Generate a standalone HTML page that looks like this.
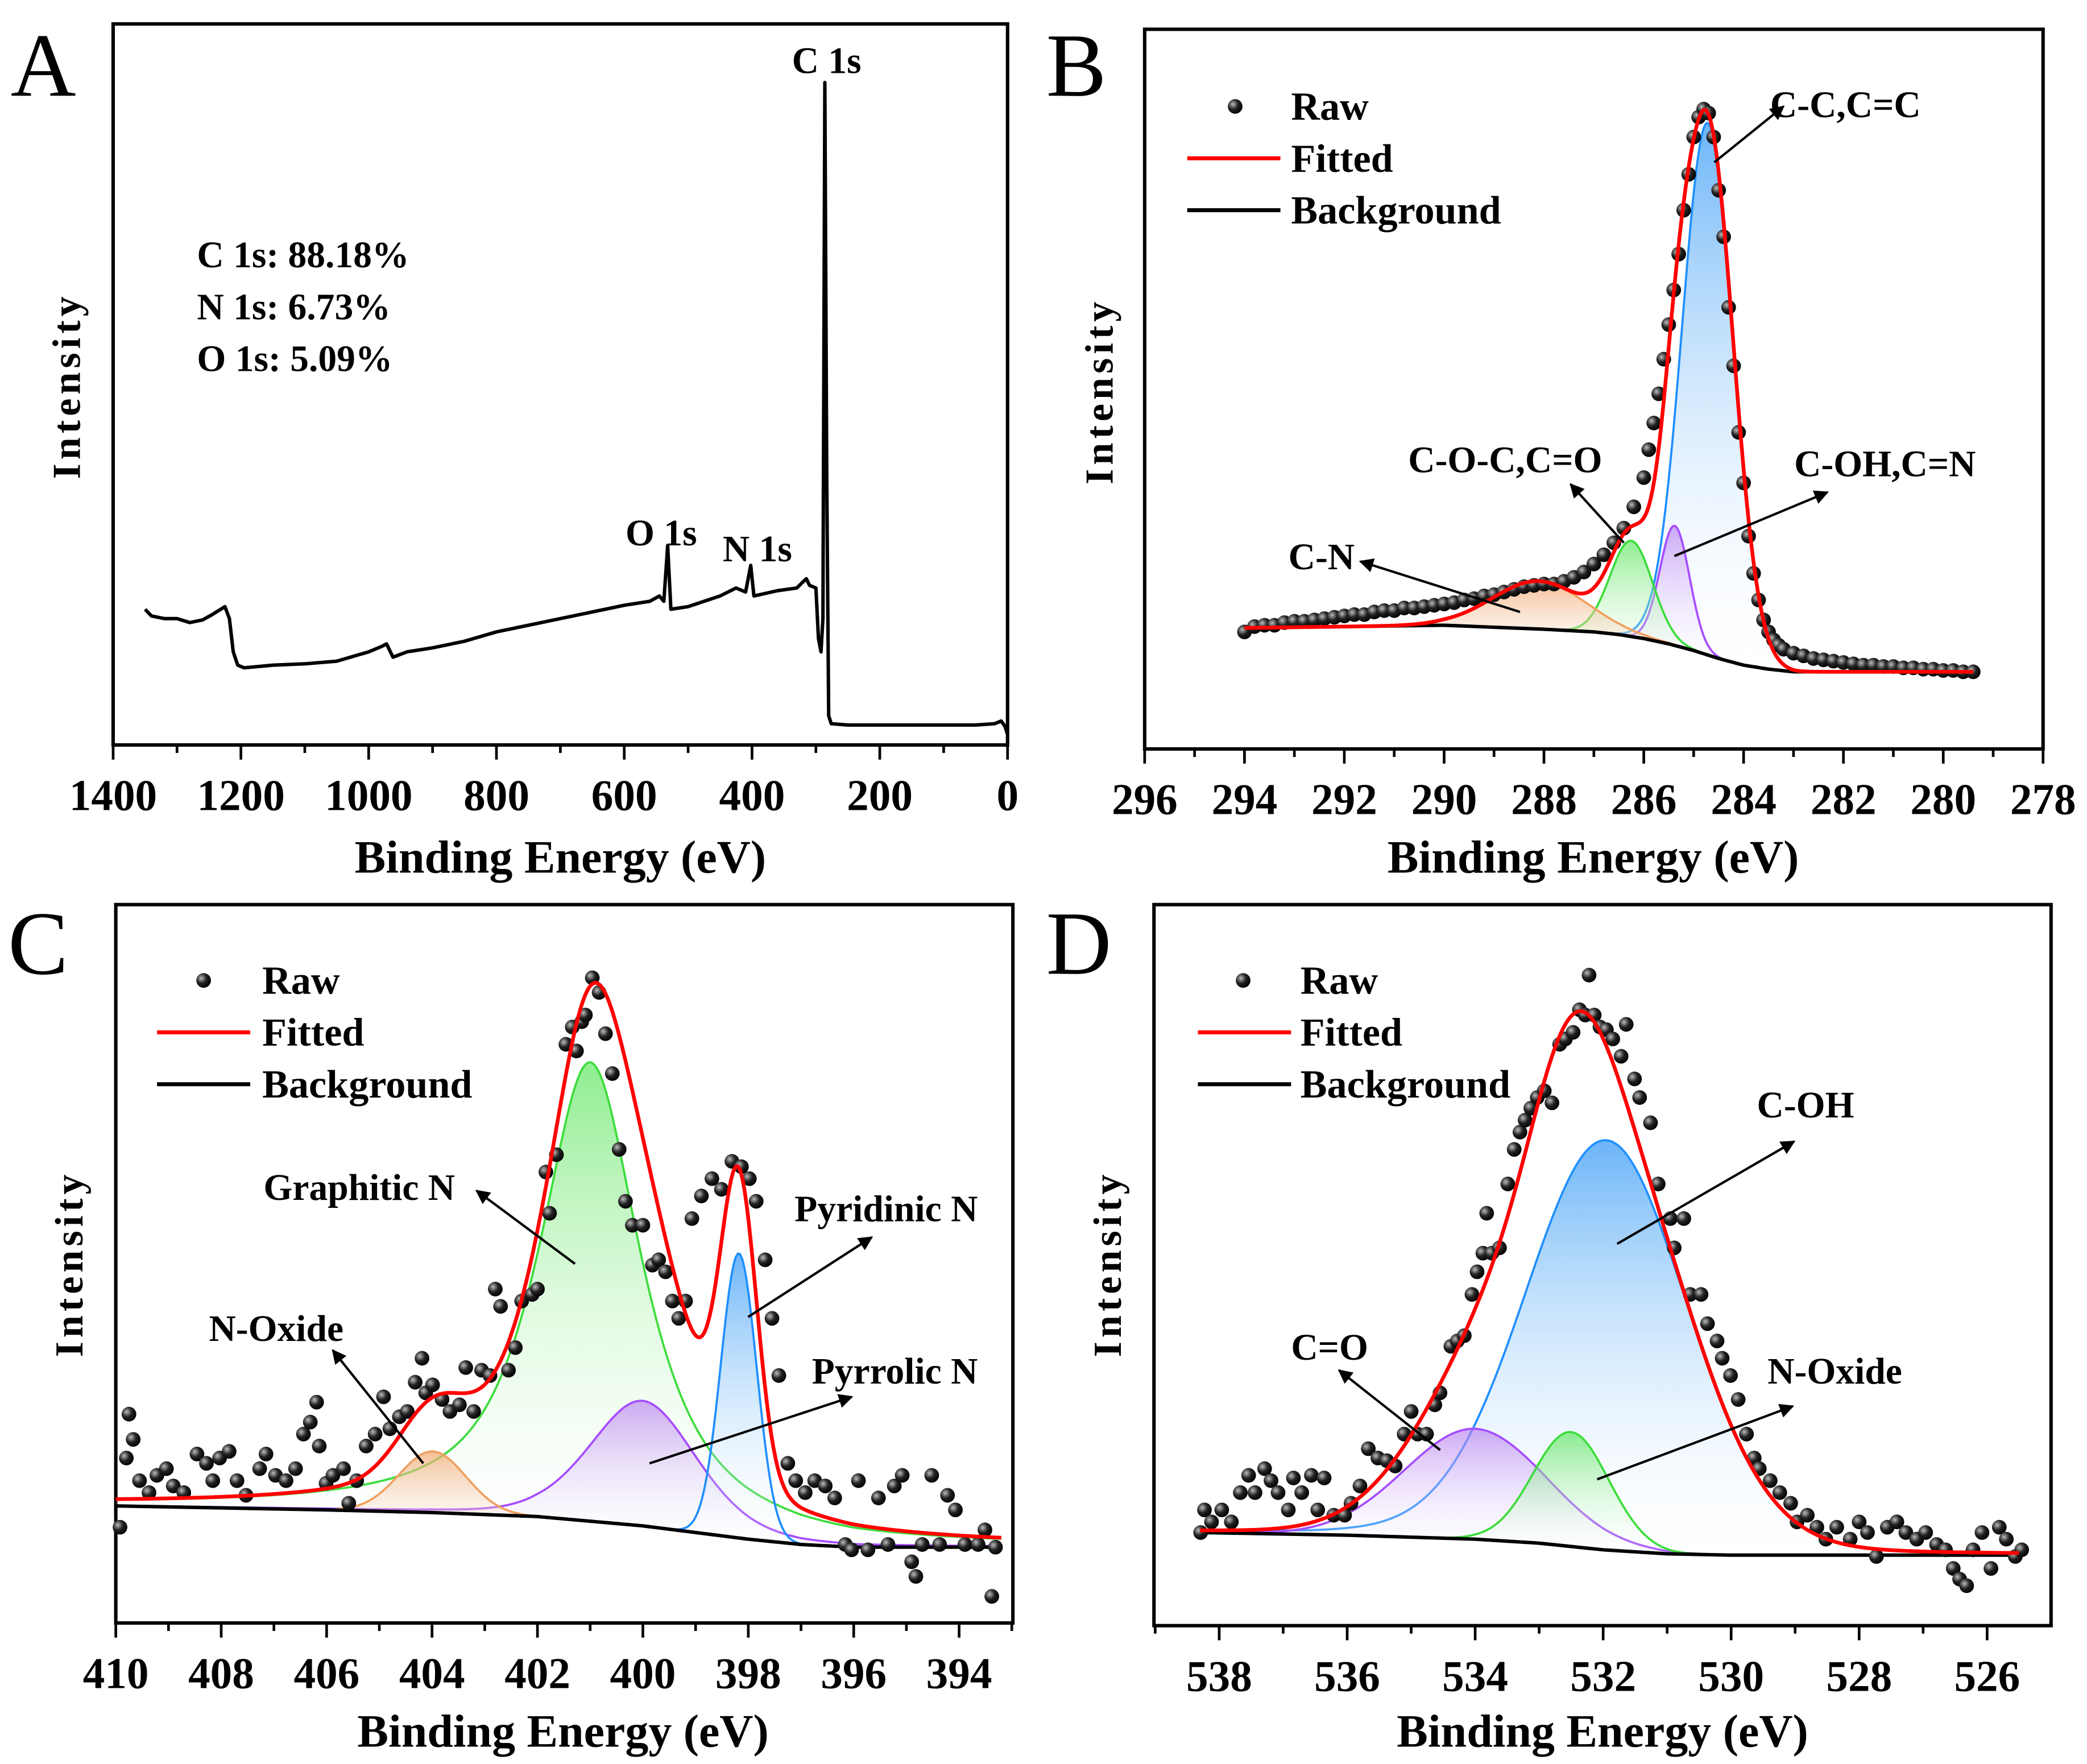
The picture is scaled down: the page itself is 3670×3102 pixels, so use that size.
<!DOCTYPE html>
<html><head><meta charset="utf-8">
<style>
html,body{margin:0;padding:0;background:#fff;}
svg{display:block;}
text{font-family:"Liberation Serif","Times New Roman",serif;fill:#000;}
.tk{font-size:33px;font-weight:bold;text-anchor:middle;}
.ax{font-size:35px;font-weight:bold;text-anchor:middle;}
.yl{font-size:30px;font-weight:bold;text-anchor:middle;letter-spacing:3px;}
.lg{font-size:30px;font-weight:bold;}
.an{font-size:28px;font-weight:bold;}
.pl{font-size:68px;}
</style></head>
<body>
<svg id="fig" width="3670" height="3102" viewBox="0 0 1568 1326" preserveAspectRatio="none" xmlns="http://www.w3.org/2000/svg">
<defs>
<radialGradient id="dotg" cx="0.35" cy="0.35" r="0.7"><stop offset="0" stop-color="#bbb"/><stop offset="0.5" stop-color="#222"/><stop offset="1" stop-color="#000"/></radialGradient>
<linearGradient id="gblue" x1="0" y1="0" x2="0" y2="1"><stop offset="0" stop-color="#3a9cf5" stop-opacity="0.75"/><stop offset="1" stop-color="#ffffff" stop-opacity="0.1"/></linearGradient>
<linearGradient id="ggreen" x1="0" y1="0" x2="0" y2="1"><stop offset="0" stop-color="#5ee65e" stop-opacity="0.7"/><stop offset="1" stop-color="#ffffff" stop-opacity="0.1"/></linearGradient>
<linearGradient id="gpurple" x1="0" y1="0" x2="0" y2="1"><stop offset="0" stop-color="#b57cf0" stop-opacity="0.65"/><stop offset="1" stop-color="#ffffff" stop-opacity="0.1"/></linearGradient>
<linearGradient id="gorange" x1="0" y1="0" x2="0" y2="1"><stop offset="0" stop-color="#f0a46a" stop-opacity="0.7"/><stop offset="1" stop-color="#ffffff" stop-opacity="0.1"/></linearGradient>
<marker id="arr" viewBox="0 0 10 10" refX="9" refY="5" markerWidth="6" markerHeight="6" orient="auto"><path d="M0,0 L10,5 L0,10 z" fill="#000"/></marker>
</defs>

<text class="pl" x="8" y="72">A</text>
<text class="pl" x="786" y="72">B</text>
<text class="pl" x="6" y="732">C</text>
<text class="pl" x="786" y="732">D</text>

<g id="pA"></g>
<g id="pB"></g>
<g id="pC"></g>
<g id="pD"></g>

<text class="ax" x="421" y="656">Binding Energy (eV)</text>
<text class="ax" x="1197" y="656">Binding Energy (eV)</text>
<text class="ax" x="423" y="1313">Binding Energy (eV)</text>
<text class="ax" x="1204" y="1313">Binding Energy (eV)</text>
<text class="yl" transform="translate(60,290) rotate(-90)">Intensity</text>
<text class="yl" transform="translate(836,294) rotate(-90)">Intensity</text>
<text class="yl" transform="translate(62,950) rotate(-90)">Intensity</text>
<text class="yl" transform="translate(842,950) rotate(-90)">Intensity</text>

<text class="an" x="595" y="55">C 1s</text>
<text class="an" x="470" y="410">O 1s</text>
<text class="an" x="543" y="422">N 1s</text>
<text class="an" x="148" y="201">C 1s: 88.18%</text>
<text class="an" x="148" y="240">N 1s: 6.73%</text>
<text class="an" x="148" y="279">O 1s: 5.09%</text>

<g>
<circle cx="928" cy="80" r="5.5" fill="url(#dotg)"/>
<text class="lg" x="970" y="90">Raw</text>
<line x1="892" y1="119" x2="962" y2="119" stroke="#f00" stroke-width="3"/>
<text class="lg" x="970" y="129">Fitted</text>
<line x1="892" y1="158" x2="962" y2="158" stroke="#000" stroke-width="3"/>
<text class="lg" x="970" y="168">Background</text>
</g>
<g>
<circle cx="153" cy="737" r="5.5" fill="url(#dotg)"/>
<text class="lg" x="197" y="747">Raw</text>
<line x1="118" y1="776" x2="188" y2="776" stroke="#f00" stroke-width="3"/>
<text class="lg" x="197" y="786">Fitted</text>
<line x1="118" y1="815" x2="188" y2="815" stroke="#000" stroke-width="3"/>
<text class="lg" x="197" y="825">Background</text>
</g>
<g>
<circle cx="934" cy="737" r="5.5" fill="url(#dotg)"/>
<text class="lg" x="977" y="747">Raw</text>
<line x1="900" y1="776" x2="970" y2="776" stroke="#f00" stroke-width="3"/>
<text class="lg" x="977" y="786">Fitted</text>
<line x1="900" y1="815" x2="970" y2="815" stroke="#000" stroke-width="3"/>
<text class="lg" x="977" y="825">Background</text>
</g>

<g stroke="#000" stroke-width="1.8" marker-end="url(#arr)">
<line x1="1288" y1="122" x2="1340" y2="80"/>
<line x1="1142" y1="460" x2="1022" y2="422"/>
<line x1="1220" y1="408" x2="1180" y2="364"/>
<line x1="1258" y1="418" x2="1373" y2="370"/>
</g>
<text class="an" x="1330" y="88">C-C,C=C</text>
<text class="an" x="968" y="428">C-N</text>
<text class="an" x="1058" y="355">C-O-C,C=O</text>
<text class="an" x="1348" y="358">C-OH,C=N</text>

<g stroke="#000" stroke-width="1.8" marker-end="url(#arr)">
<line x1="432" y1="950" x2="358" y2="895"/>
<line x1="562" y1="990" x2="655" y2="930"/>
<line x1="488" y1="1100" x2="640" y2="1050"/>
<line x1="318" y1="1100" x2="250" y2="1015"/>
</g>
<text class="an" x="198" y="902">Graphitic N</text>
<text class="an" x="597" y="918">Pyridinic N</text>
<text class="an" x="610" y="1040">Pyrrolic N</text>
<text class="an" x="157" y="1008">N-Oxide</text>

<g stroke="#000" stroke-width="1.8" marker-end="url(#arr)">
<line x1="1215" y1="935" x2="1348" y2="858"/>
<line x1="1082" y1="1090" x2="1006" y2="1030"/>
<line x1="1200" y1="1112" x2="1347" y2="1057"/>
</g>
<text class="an" x="1320" y="840">C-OH</text>
<text class="an" x="970" y="1022">C=O</text>
<text class="an" x="1328" y="1040">N-Oxide</text>
</svg>

<script>
const aEnergy=[1350,1340,1320,1300,1280,1260,1245,1235,1225,1218,1212,1205,1195,1150,1100,1050,1000,980,972,962,940,900,850,800,750,700,650,600,560,545,538,532,527,500,450,425,410,402,397,360,330,315,310,300,296,292,289,286,283,280,276,250,200,150,100,50,20,10,4,0];
const aCounts=[102,97,95,95,92,94,98,101,104,95,70,60,58,60,61,63,70,74,76,66,70,73,78,85,90,95,100,105,108,112,108,150,102,104,112,118,115,135,112,116,118,125,120,118,80,70,95,498,200,22,16,15,15,15,15,15,16,18,14,8];
const aTicks=[1400,1200,1000,800,600,400,200,0];

const bRawE=[294.0,293.8,293.6,293.4,293.2,293.0,292.8,292.6,292.4,292.2,292.0,291.8,291.6,291.4,291.2,291.0,290.8,290.6,290.4,290.2,290.0,289.8,289.6,289.4,289.2,289.0,288.8,288.6,288.4,288.2,288.0,287.8,287.6,287.4,287.2,287.0,286.8,286.6,286.4,286.2,286.0,285.9,285.8,285.7,285.6,285.5,285.4,285.3,285.2,285.1,285.0,284.9,284.8,284.7,284.6,284.5,284.4,284.3,284.2,284.1,284.0,283.9,283.8,283.7,283.6,283.5,283.4,283.3,283.2,283.0,282.8,282.6,282.4,282.2,282.0,281.8,281.6,281.4,281.2,281.0,280.8,280.6,280.4,280.2,280.0,279.8,279.6,279.4];
const bRawI=[88,92,93,93,95,96,96,97,98,99,100,101,101,103,104,104,106,106,107,108,109,110,112,113,115,116,118,120,122,123,124,124,126,129,133,139,146,155,166,182,204,225,245,267,293,319,345,372,405,432,460,475,481,478,460,420,385,332,288,238,200,160,132,112,97,88,82,78,75,72,70,68,67,66,65,64,63,63,62,62,61,61,60,60,59,59,58,58];
const bBgE=[294,290,288,287,286.5,286,285.5,285,284.5,284,283.5,283,280,279.4];
const bBgI=[91,93,90,88,86,83,79,74,68,63,60,58,58,58];
const bPeakNames=["C-C,C=C","C-OH,C=N","C-O-C,C=O","C-N"];
const bCenters=[284.72,285.38,286.25,288.1];
const bHeights=[400,90,72,36];
const bFwhm=[1.2,0.7,1.0,2.2];
const bEta=[0,0,0,0];
const bColors=["#1f8fff","#a64dff","#3ddc3d","#f0a060"];
const bFills=["gblue","gpurple","ggreen","gorange"];
const bTicks=[296,294,292,290,288,286,284,282,280,278];

const cRawE=[409.92,409.75,409.67,409.80,409.55,409.37,409.22,409.04,408.91,408.71,408.46,408.28,408.16,408.03,407.85,407.70,407.53,407.27,407.15,406.97,406.77,406.59,406.44,406.31,406.19,406.14,406.01,405.88,405.68,405.58,405.43,405.25,405.08,404.92,404.80,404.62,404.47,404.32,404.19,404.12,403.99,403.81,403.66,403.48,403.36,403.21,403.06,402.90,402.80,402.70,402.55,402.42,402.30,402.10,402.00,401.84,401.77,401.64,401.46,401.34,401.26,401.16,401.09,400.96,400.83,400.71,400.58,400.45,400.33,400.20,400.00,399.82,399.70,399.57,399.44,399.32,399.19,399.07,398.89,398.69,398.51,398.31,398.13,397.98,397.85,397.68,397.55,397.42,397.25,397.10,396.92,396.74,396.54,396.36,396.16,396.04,395.91,395.73,395.53,395.35,395.23,395.08,394.90,394.82,394.70,394.52,394.37,394.22,394.07,393.89,393.64,393.51,393.38,393.31];
const cRawI=[72,157,138,124,107,98,111,116,103,98,127,120,107,124,129,107,96,116,127,111,107,116,142,151,166,133,105,111,116,90,107,133,142,170,146,155,159,181,199,173,179,168,159,164,192,159,190,186,251,238,190,207,242,247,251,339,308,352,435,448,430,452,457,485,474,443,413,356,317,299,299,269,273,264,242,229,242,304,321,334,326,347,343,334,317,273,229,186,120,107,98,107,103,94,59,55,107,55,94,59,103,111,46,35,59,111,59,96,85,59,59,70,20,57];
const cBgE=[410,406,404,402,400,399,398,397,396,393.2];
const cBgI=[88,85,83,80,73,68,63,59,57,57];
const cPeakNames=["Graphitic N","Pyrrolic N","Pyridinic N","N-Oxide"];
const cCenters=[401.0,400.0,398.18,403.99];
const cHeights=[345,94,214,46];
const cFwhm=[2.3,2.4,0.8,1.5];
const cEta=[0.85,0.3,0,0];
const cColors=["#3ddc3d","#a64dff","#1f8fff","#f0a060"];
const cFills=["ggreen","gpurple","gblue","gorange"];
const cTicks=[410,408,406,404,402,400,398,396,394];

const dRawE=[538.29,538.23,538.12,537.96,537.81,537.67,537.54,537.44,537.29,537.19,537.08,536.92,536.84,536.71,536.56,536.46,536.36,536.21,536.04,535.94,535.80,535.67,535.52,535.38,535.25,535.11,535.00,534.90,534.76,534.63,534.55,534.38,534.28,534.17,534.05,533.97,533.88,533.82,533.74,533.62,533.49,533.39,533.30,533.22,533.13,533.03,532.92,532.80,532.68,532.59,532.47,532.37,532.28,532.22,532.14,532.05,531.95,531.85,531.72,531.64,531.51,531.43,531.26,531.14,530.95,530.89,530.74,530.64,530.47,530.37,530.22,530.14,530.01,529.89,529.76,529.64,529.56,529.39,529.24,529.07,528.97,528.81,528.66,528.52,528.35,528.14,528.00,527.87,527.73,527.56,527.41,527.27,527.10,526.96,526.79,526.65,526.53,526.43,526.32,526.22,526.08,525.94,525.81,525.70,525.56,525.46];
const dRawI=[70,87,78,87,78,100,113,100,118,109,100,87,111,100,113,87,111,83,83,92,105,133,126,124,120,144,161,144,144,166,175,210,214,218,249,266,280,310,280,284,332,358,371,380,389,397,402,393,437,441,446,463,459,489,459,450,448,441,428,452,411,397,378,332,306,284,306,249,249,227,214,201,188,170,144,126,118,109,100,92,78,83,74,65,74,65,78,70,52,74,78,70,65,70,61,57,43,35,30,57,70,43,74,65,52,57];
const dBgE=[538.3,536,534,533,532,531,530,525.5];
const dBgI=[70,68,65,62,57,54,53,53];
const dPeakNames=["C-OH","C=O","N-Oxide"];
const dCenters=[531.95,534.0,532.5];
const dHeights=[308,83,86];
const dFwhm=[3.0,2.6,1.4];
const dEta=[0.1,0,0];
const dColors=["#1f8fff","#a64dff","#3ddc3d"];
const dFills=["gblue","gpurple","ggreen"];
const dTicks=[538,536,534,532,530,528,526];

const NS="http://www.w3.org/2000/svg";
function mk(parent,tag,attrs){const e=document.createElementNS(NS,tag);for(const k in attrs)e.setAttribute(k,attrs[k]);parent.appendChild(e);return e;}
function interp(E,V,e){
  const asc=E[0]<E[E.length-1];
  for(let i=0;i<E.length-1;i++){
    const a=E[i],b=E[i+1];
    if((e>=Math.min(a,b))&&(e<=Math.max(a,b))){const t=(e-a)/(b-a);return V[i]+t*(V[i+1]-V[i]);}
  }
  const lo=asc?0:E.length-1;
  return (e<Math.min(E[0],E[E.length-1]))?V[lo]:V[E.length-1-lo];
}
function pv(e,c,a,w,eta){const s=w/2.3548;const g=Math.exp(-((e-c)*(e-c))/(2*s*s));const l=1/(1+Math.pow((e-c)/(w/2),2));return a*(eta*l+(1-eta)*g);}

function axes(g,fr,eL,eR,ticks,minorStep,name){
  const xs=e=>fr.x0+(eL-e)*(fr.x1-fr.x0)/(eL-eR);
  const fb=mk(g,'rect',{x:fr.x0,y:fr.y0,width:fr.x1-fr.x0,height:fr.y1-fr.y0,fill:'none',stroke:'#000','stroke-width':2.6});
  
  
  const lo=Math.min(eL,eR),hi=Math.max(eL,eR);
  for(let v=Math.ceil(lo/minorStep)*minorStep;v<=hi+1e-9;v+=minorStep){
    const maj=ticks.some(t=>Math.abs(t-v)<1e-6);
    const t=mk(g,'line',{x1:xs(v),x2:xs(v),y1:fr.y1,y2:fr.y1+(maj?11:6),stroke:'#000','stroke-width':2});
    
    
  }
  ticks.forEach(v=>{
    const t=mk(g,'text',{x:xs(v),y:fr.y1+49,class:'tk'});
    t.textContent=String(v);
    
    
  });
  return xs;
}

function pathFrom(pts){return pts.map((p,i)=>(i?'L':'M')+p[0].toFixed(2)+','+p[1].toFixed(2)).join(' ');}

(function(){
  const g=document.getElementById('pA');
  const fr={x0:85,x1:757,y0:18,y1:560};
  const xs=axes(g,fr,1400,0,aTicks,100,'panel-a');
  const ys=v=>fr.y1-v;
  const pts=aEnergy.map((e,i)=>[xs(e),ys(aCounts[i])]);
  const p=mk(g,'path',{d:pathFrom(pts),fill:'none',stroke:'#000','stroke-width':2.6,'stroke-linejoin':'round'});
  
  
})();

function fitPanel(id,fr,eL,eR,ticks,rawE,rawI,bgE,bgI,cen,hei,fw,eta,cols,fills,names,pname){
  const g=document.getElementById(id);
  const xs=axes(g,fr,eL,eR,ticks,1,pname);
  const ys=v=>fr.y1-v;
  const eStart=Math.max(...bgE),eEnd=Math.min(...bgE);
  const N=400;const es=[];for(let i=0;i<=N;i++)es.push(eStart-(eStart-eEnd)*i/N);
  const bg=es.map(e=>interp(bgE,bgI,e));
  cen.forEach((c,k)=>{
    const top=es.map((e,i)=>[xs(e),ys(bg[i]+pv(e,c,hei[k],fw[k],eta[k]))]);
    const bot=es.map((e,i)=>[xs(e),ys(bg[i])]).reverse();
    const f=mk(g,'path',{d:pathFrom(top.concat(bot))+' Z',fill:'url(#'+fills[k]+')',stroke:'none'});
    
    
    const l=mk(g,'path',{d:pathFrom(top),fill:'none',stroke:cols[k],'stroke-width':1.6});
    
    
  });
  const bgp=mk(g,'path',{d:pathFrom(es.map((e,i)=>[xs(e),ys(bg[i])])),fill:'none',stroke:'#000','stroke-width':2.6});
  
  
  rawE.forEach((e,i)=>{
    const c=mk(g,'circle',{cx:xs(e),cy:ys(rawI[i]),r:5.5,fill:'url(#dotg)'});
    
    
  });
  const fit=es.map((e,i)=>{let s=bg[i];cen.forEach((c,k)=>{s+=pv(e,c,hei[k],fw[k],eta[k]);});return [xs(e),ys(s)];});
  const fp=mk(g,'path',{d:pathFrom(fit),fill:'none',stroke:'#f00','stroke-width':2.8});
  
  
}
fitPanel('pB',{x0:860,x1:1535,y0:22,y1:563},296,278,bTicks,bRawE,bRawI,bBgE,bBgI,bCenters,bHeights,bFwhm,bEta,bColors,bFills,bPeakNames,'panel-b');
fitPanel('pC',{x0:87,x1:761,y0:680,y1:1220},410,410-674/39.6,cTicks,cRawE,cRawI,cBgE,cBgI,cCenters,cHeights,cFwhm,cEta,cColors,cFills,cPeakNames,'panel-c');
fitPanel('pD',{x0:867,x1:1541,y0:680,y1:1222},538+49/48.08,538-625/48.08,dTicks,dRawE,dRawI,dBgE,dBgI,dCenters,dHeights,dFwhm,dEta,dColors,dFills,dPeakNames,'panel-d');
</script>
</body></html>
